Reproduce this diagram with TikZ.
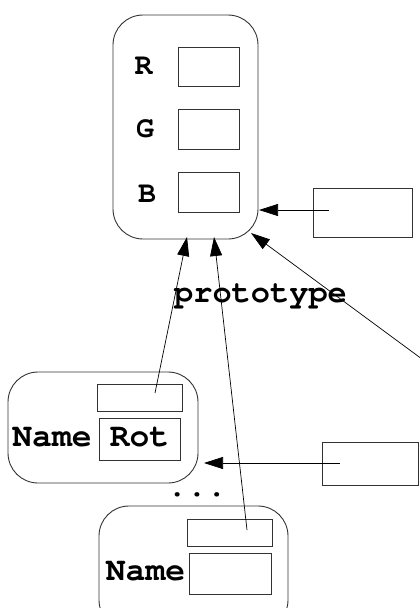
\documentclass[tikz,border=0pt]{standalone}
\usepackage[T1,TU]{fontenc}
\usetikzlibrary{arrows.meta}
\newcommand\courb{\fontencoding{T1}\fontfamily{pcr}\fontseries{b}\selectfont}
\tikzset{
  outer/.style={draw=black!80, line width=0.9pt, rounded corners=30pt, inner sep=0pt},
  slot/.style={draw=black!80, line width=0.9pt, inner sep=0pt},
  lbl/.style={inner sep=0pt, anchor=base, font=\courb\fontsize{30}{30}\selectfont},
  biglbl/.style={inner sep=0pt, anchor=base, font=\courb\fontsize{33}{33}\selectfont},
  protolbl/.style={inner sep=0pt, anchor=base, font=\courb\fontsize{32}{32}\selectfont},
  dotlbl/.style={inner sep=0pt, anchor=base, font=\courb\fontsize{33}{33}\selectfont},
  link/.style={line width=0.7pt, -{Triangle[length=19pt,width=12pt]}},
}
\begin{document}
\begin{tikzpicture}[x=1pt,y=-1pt]
\useasboundingbox (0,0) rectangle (420,608);
\clip (0,0) rectangle (420,608);
% top object
\node[outer, minimum width=145pt, minimum height=224pt] (top) at (185.5,127) {};
\node[slot, minimum width=61pt, minimum height=39pt] (rbox) at (208.5,66.5) {};
\node[slot, minimum width=61pt, minimum height=40pt] (gbox) at (208.5,129) {};
\node[slot, minimum width=61pt, minimum height=40pt] (bbox) at (208.5,192) {};
\node[lbl] (rl) at (143.5,74) {R};
\node[lbl] (gl) at (145,137) {G};
\node[lbl] (bl) at (147,202) {B};
% right boxes
\node[slot, minimum width=99pt, minimum height=49pt] (rb1) at (362.5,212.5) {};
\node[slot, minimum width=96pt, minimum height=43pt] (rb2) at (370,463.5) {};
% label
\node[protolbl] (proto) at (260.5,302) {prototype};
% middle object
\node[outer, minimum width=190pt, minimum height=111pt] (mid) at (103,427.5) {};
\node[slot, minimum width=85pt, minimum height=27pt] (mslot) at (139.5,397.5) {};
\node[slot, minimum width=81pt, minimum height=42pt] (rot) at (139.5,439) {};
\node[biglbl] (mname) at (52,446) {Name};
\node[biglbl] (rottxt) at (139.5,446) {Rot};
% dots
\node[dotlbl] (dots) at (197,496) {...};
% bottom object
\node[outer, minimum width=189pt, minimum height=124pt] (bot) at (193.5,568) {};
\node[slot, minimum width=85pt, minimum height=27pt] (bslot) at (229.5,532.5) {};
\node[slot, minimum width=82pt, minimum height=41pt] (bval) at (230,573.5) {};
\node[biglbl] (bname) at (145.5,580) {Name};
% connector ends
\coordinate (s1) at (329,210);
\coordinate (t1) at (259,210);
\coordinate (s2) at (426,362);
\coordinate (t2) at (251,233);
\coordinate (s3) at (155,393);
\coordinate (t3) at (187,237);
\coordinate (s4) at (247,530);
\coordinate (t4) at (214,237);
\coordinate (s5) at (340,463);
\coordinate (t5) at (204,463);
\draw[link] (s1) -- (t1);
\draw[link] (s2) -- (t2);
\draw[link] (s3) -- (t3);
\draw[link] (s4) -- (t4);
\draw[link] (s5) -- (t5);
\end{tikzpicture}
\end{document}
